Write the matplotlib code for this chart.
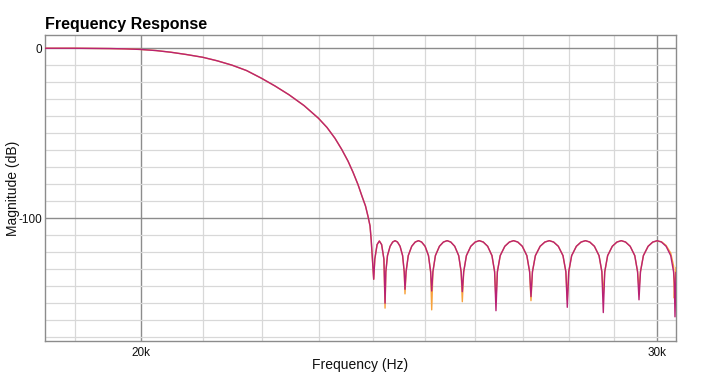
"""Frequency response of a lowpass filter, two overlaid traces."""

import matplotlib

matplotlib.use("Agg")
import matplotlib.pyplot as plt
from matplotlib.ticker import FixedLocator, FixedFormatter

plt.rcParams["font.family"] = ["Liberation Sans", "DejaVu Sans"]

# --- Data -------------------------------------------------------------------
freq_hz = [
    18560, 19000, 19527, 19758, 20000, 20245, 20484, 20727, 21000, 21237,
    21488, 21734, 21988, 22226, 22471, 22737, 22997, 23151, 23297, 23420,
    23536, 23628, 23721, 23796, 23861, 23908, 23946, 23968, 23989,
    24015,
    24036, 24079, 24122, 24165, 24208,
    24230,
    24245, 24276, 24326, 24375, 24421, 24467, 24517, 24566, 24597,
    24612,
    24633, 24675, 24742, 24810, 24873, 24935, 25003, 25070, 25112,
    25133,
    25157, 25206, 25286, 25365, 25439, 25512, 25591, 25671, 25720,
    25744,
    25772, 25827, 25916, 26006, 26089, 26171, 26261, 26350, 26405,
    26433,
    26462, 26521, 26617, 26713, 26801, 26889, 26985, 27081, 27140,
    27169,
    27200, 27263, 27365, 27467, 27562, 27656, 27758, 27860, 27923,
    27954,
    27986, 28050, 28154, 28258, 28355, 28451, 28555, 28659, 28723,
    28755,
    28788, 28853, 28959, 29065, 29164, 29262, 29368, 29474, 29539,
    29572,
    29606, 29674, 29784, 29894, 29996, 30097, 30207, 30317, 30385,
    30403, 30419, 30443,
]

mag_db_b = [
    0, 0, -0.18, -0.35, -0.7, -1.35, -2.35, -3.65, -5.3, -7.35,
    -9.94, -13.1, -17.6, -22.2, -27.35, -33.7, -41.2, -46.6, -53.0, -59.5,
    -66.4, -72.9, -80.2, -87.1, -92.8, -98.9, -104.5, -112.8, -123.4,
    -135.9,
    -124, -115.5, -113.4, -115.5, -124,
    -150,
    -131.5, -122, -116.5, -114, -113.2, -114, -116.5, -122, -131.5,
    -141.8,
    -131.5, -122, -116.5, -114, -113.2, -114, -116.5, -122, -131.5,
    -142.8,
    -131.5, -122, -116.5, -114, -113.2, -114, -116.5, -122, -131.5,
    -143.2,
    -131.5, -122, -116.5, -114, -113.2, -114, -116.5, -122, -131.5,
    -154.4,
    -131.5, -122, -116.5, -114, -113.2, -114, -116.5, -122, -131.5,
    -146.1,
    -131.5, -122, -116.5, -114, -113.2, -114, -116.5, -122, -131.5,
    -152.4,
    -131.5, -122, -116.5, -114, -113.2, -114, -116.5, -122, -131.5,
    -155.5,
    -131.5, -122, -116.5, -114, -113.2, -114, -116.5, -122, -131.5,
    -148,
    -131.5, -122, -116.5, -114, -113.2, -114, -116.5, -122, -131.5,
    -138, -158, -132,
]

mag_db_a = [
    0, 0, -0.18, -0.35, -0.7, -1.35, -2.35, -3.65, -5.3, -7.35,
    -9.94, -13.1, -17.6, -22.2, -27.35, -33.7, -41.2, -46.6, -53.0, -59.5,
    -66.4, -72.9, -80.2, -87.1, -92.8, -98.9, -104.5, -112.8, -123.4,
    -135.9,
    -124, -115.5, -113.4, -115.5, -124,
    -152.9,
    -131.5, -122, -116.5, -114, -113.2, -114, -116.5, -122, -131.5,
    -144.5,
    -131.5, -122, -116.5, -114, -113.2, -114, -116.5, -122, -131.5,
    -153.9,
    -131.5, -122, -116.5, -114, -113.2, -114, -116.5, -122, -131.5,
    -149.1,
    -131.5, -122, -116.5, -114, -113.2, -114, -116.5, -122, -131.5,
    -148,
    -131.5, -122, -116.5, -114, -113.2, -114, -116.5, -122, -131.5,
    -148.5,
    -131.5, -122, -116.5, -114, -113.2, -114, -116.5, -122, -131.5,
    -148,
    -131.5, -122, -116.5, -114, -113.2, -114, -116.5, -122, -131.5,
    -145,
    -131.5, -122, -116.5, -114, -113.2, -114, -116.5, -122, -131.5,
    -142,
    -131.5, -122, -116.5, -114, -113.4, -113.8, -116, -120.5, -128,
    -147, -138, -129,
]

x_major = [20000, 30000]
x_major_labels = ["20k", "30k"]
x_minor = [19000, 21000, 22000, 23000, 24000, 25000, 26000, 27000, 28000, 29000]
y_major = [-100, 0]
y_major_labels = ["-100", "0"]
y_minor = [-170, -160, -150, -140, -130, -120, -110, -90, -80, -70, -60, -50,
           -40, -30, -20, -10]

assert len(freq_hz) == len(mag_db_a) == len(mag_db_b)

ORANGE = "#f7a23c"
MAGENTA = "#b92274"
MAJOR = "#8c8c8c"
MINOR = "#d8d8d8"

fig = plt.figure(figsize=(7.09, 3.80), dpi=100)
ax = fig.add_axes([45 / 709, 1 - 341.3 / 380, 631 / 709, 306.3 / 380])

ax.plot(freq_hz, mag_db_a, color=ORANGE, lw=1.0, zorder=3)
ax.plot(freq_hz, mag_db_b, color=MAGENTA, lw=1.0, zorder=4)

ax.set_xscale("log")
ax.set_xlim(18556, 30443)
ax.set_ylim(-172.4, 7.8)

ax.xaxis.set_major_locator(FixedLocator(x_major))
ax.xaxis.set_major_formatter(FixedFormatter(x_major_labels))
ax.xaxis.set_minor_locator(FixedLocator(x_minor))
ax.xaxis.set_minor_formatter(FixedFormatter([""] * len(x_minor)))
ax.yaxis.set_major_locator(FixedLocator(y_major))
ax.yaxis.set_major_formatter(FixedFormatter(y_major_labels))
ax.yaxis.set_minor_locator(FixedLocator(y_minor))

ax.grid(True, which="major", color=MAJOR, lw=1.0, zorder=1)
ax.grid(True, which="minor", color=MINOR, lw=0.9, zorder=0)
ax.set_axisbelow(True)

ax.tick_params(which="both", length=0, labelsize=8.5, colors="#111111")
ax.tick_params(axis="x", pad=4)
ax.tick_params(axis="y", pad=2)
for s in ax.spines.values():
    s.set_color(MAJOR)
    s.set_linewidth(1.0)

ax.set_xlabel("Frequency (Hz)", fontsize=10, color="#111111")
ax.xaxis.set_label_coords(0.5, -0.055)
ax.set_ylabel("Magnitude (dB)", fontsize=10, color="#111111")
ax.yaxis.set_label_coords(-0.039, 0.5)

fig.text(45 / 709, 1 - 29.5 / 380, "Frequency Response", fontsize=11.5,
         fontweight="bold", ha="left", va="baseline", color="#000000")

fig.savefig("out.png", dpi=100, facecolor="white")
